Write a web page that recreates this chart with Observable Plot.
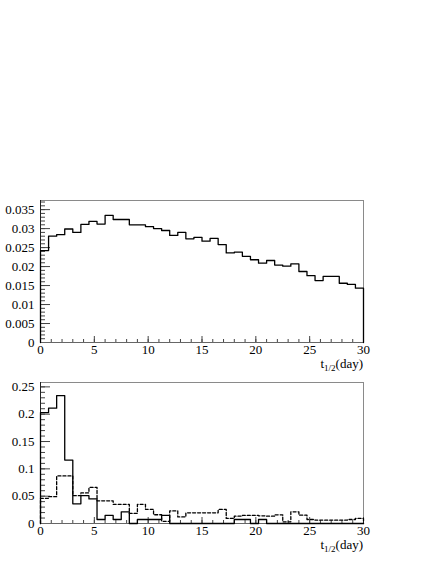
<!DOCTYPE html>
<html>
<head>
<meta charset="utf-8">
<script src="https://cdn.jsdelivr.net/npm/d3@7"></script>
<script src="https://cdn.jsdelivr.net/npm/@observablehq/plot@0.6"></script>
<style>
  html, body { margin: 0; padding: 0; background: #fff; }
  #chart { width: 436px; height: 564px; position: relative; }
  #chart svg { display: block; }
</style>
</head>
<body>
<div id="chart"></div>
<script>
// ---- data (histograms of t1/2 in days, 40 bins from 0 to 30) ----
const xRange = [0, 30];
const nBins = 40;

const topValues = [
  0.0242, 0.0280, 0.0284, 0.0299, 0.0290, 0.0311, 0.0319, 0.0312, 0.0335, 0.0324,
  0.0324, 0.0310, 0.0310, 0.0305, 0.0300, 0.0295, 0.0282, 0.0290, 0.0273, 0.0277,
  0.0267, 0.0274, 0.0258, 0.0236, 0.0238, 0.0227, 0.0218, 0.0209, 0.0216, 0.0204,
  0.0201, 0.0207, 0.0187, 0.0176, 0.0163, 0.0174, 0.0174, 0.0156, 0.0153, 0.0143
];

const bottomSolid = [
  0.203, 0.211, 0.234, 0.116, 0.036, 0.051, 0.045, 0.0073, 0.0147, 0.0073,
  0.0214, 0, 0.0073, 0.0073, 0.0073, 0.0147, 0, 0, 0, 0,
  0, 0, 0, 0, 0.0073, 0.0073, 0, 0.0073, 0, 0,
  0, 0, 0, 0, 0, 0, 0, 0, 0, 0
];

const bottomDashed = [
  0.046, 0.049, 0.087, 0.087, 0.051, 0.056, 0.066, 0.0415, 0.0415, 0.035,
  0.035, 0.0185, 0.035, 0.026, 0.016, 0.004, 0.023, 0.012, 0.0196, 0.0196,
  0.0196, 0.0196, 0.0257, 0.0092, 0.0134, 0.0147, 0.0147, 0.014, 0.0134, 0.0159,
  0.003, 0.0214, 0.0153, 0.0073, 0.0061, 0.0061, 0.0061, 0.0061, 0.0073, 0.0092
];

const xTicks = [0, 5, 10, 15, 20, 25, 30];
const xMinorTicks = d3.range(0, 31, 1);
const topYTicks = [0, 0.005, 0.01, 0.015, 0.02, 0.025, 0.03, 0.035];
const topYTickLabels = ["0", "0.005", "0.01", "0.015", "0.02", "0.025", "0.03", "0.035"];
const topYMinor = d3.range(0, 0.0371, 0.001);
const topYDomain = [0, 0.0374];
const botYTicks = [0, 0.05, 0.1, 0.15, 0.2, 0.25];
const botYTickLabels = ["0", "0.05", "0.1", "0.15", "0.2", "0.25"];
const botYMinor = d3.range(0, 0.2551, 0.01);
const botYDomain = [0, 0.258];
const axisLabelMain = "t";
const axisLabelSub = "1/2";
const axisLabelUnit = "(day)";

// ---- helpers ----
const binWidth = (xRange[1] - xRange[0]) / nBins;
function stepPoints(values) {
  const pts = [{x: xRange[0], y: 0}];
  values.forEach((v, i) => {
    pts.push({x: xRange[0] + i * binWidth, y: v});
    pts.push({x: xRange[0] + (i + 1) * binWidth, y: v});
  });
  pts.push({x: xRange[1], y: 0});
  return pts;
}

const FONT = "Liberation Serif";

function panel({height, marginTop, marginBottom, yDomain, yTicks, yTickLabels, yMinor, series}) {
  const marginLeft = 40, marginRight = 73, width = 436;
  const marks = [
    Plot.frame({stroke: "#8a8a8a", strokeWidth: 1}),
    // minor ticks (inward)
    Plot.axisX({ticks: xMinorTicks, tickSize: -3, text: null, stroke: "#444"}),
    Plot.axisY({ticks: yMinor, tickSize: -5, text: null, stroke: "#444"}),
    // major ticks (inward)
    Plot.axisX({ticks: xTicks, tickSize: -6, text: null, stroke: "#444"}),
    Plot.axisY({ticks: yTicks, tickSize: -10, text: null, stroke: "#444"}),
    // labels
    Plot.axisX({ticks: xTicks, tickSize: 0, tickPadding: 2, tickFormat: d => String(d), label: null,
                fontFamily: FONT, fontSize: 13}),
    Plot.axisY({ticks: yTicks, tickSize: 0, tickPadding: 6, tickFormat: (d, i) => yTickLabels[i], label: null,
                fontFamily: FONT, fontSize: 13}),
    Plot.ruleX([xRange[0]], {stroke: "#222"}),
    Plot.ruleY([0], {stroke: "#666"}),
    ...series.map(s => Plot.line(stepPoints(s.values), {
      x: "x", y: "y", stroke: "#000", strokeWidth: 1.3,
      strokeDasharray: s.dash || null, curve: "linear"
    }))
  ];
  const svg = Plot.plot({
    width, height, marginTop, marginBottom, marginLeft, marginRight,
    style: {fontFamily: FONT, fontSize: "13px", color: "#000", background: "#fff", overflow: "visible"},
    x: {domain: xRange, label: null},
    y: {domain: yDomain, label: null},
    marks
  });
  // axis title with subscript
  const t = d3.select(svg).append("text")
    .attr("x", width - marginRight)
    .attr("y", height - marginBottom + 26)
    .attr("text-anchor", "end")
    .attr("font-family", FONT)
    .attr("font-size", 13)
    .attr("fill", "#000");
  t.append("tspan").text(axisLabelMain);
  t.append("tspan").attr("font-size", 9).attr("dy", 3).text(axisLabelSub);
  t.append("tspan").attr("dy", -3).text(axisLabelUnit);
  return svg;
}

const root = document.getElementById("chart");
root.appendChild(panel({
  height: 375, marginTop: 200, marginBottom: 33,
  yDomain: topYDomain, yTicks: topYTicks, yTickLabels: topYTickLabels, yMinor: topYMinor,
  series: [{values: topValues}]
}));
root.appendChild(panel({
  height: 189, marginTop: 7, marginBottom: 41,
  yDomain: botYDomain, yTicks: botYTicks, yTickLabels: botYTickLabels, yMinor: botYMinor,
  series: [{values: bottomDashed, dash: "3,2"}, {values: bottomSolid}]
}));
</script>
</body>
</html>
